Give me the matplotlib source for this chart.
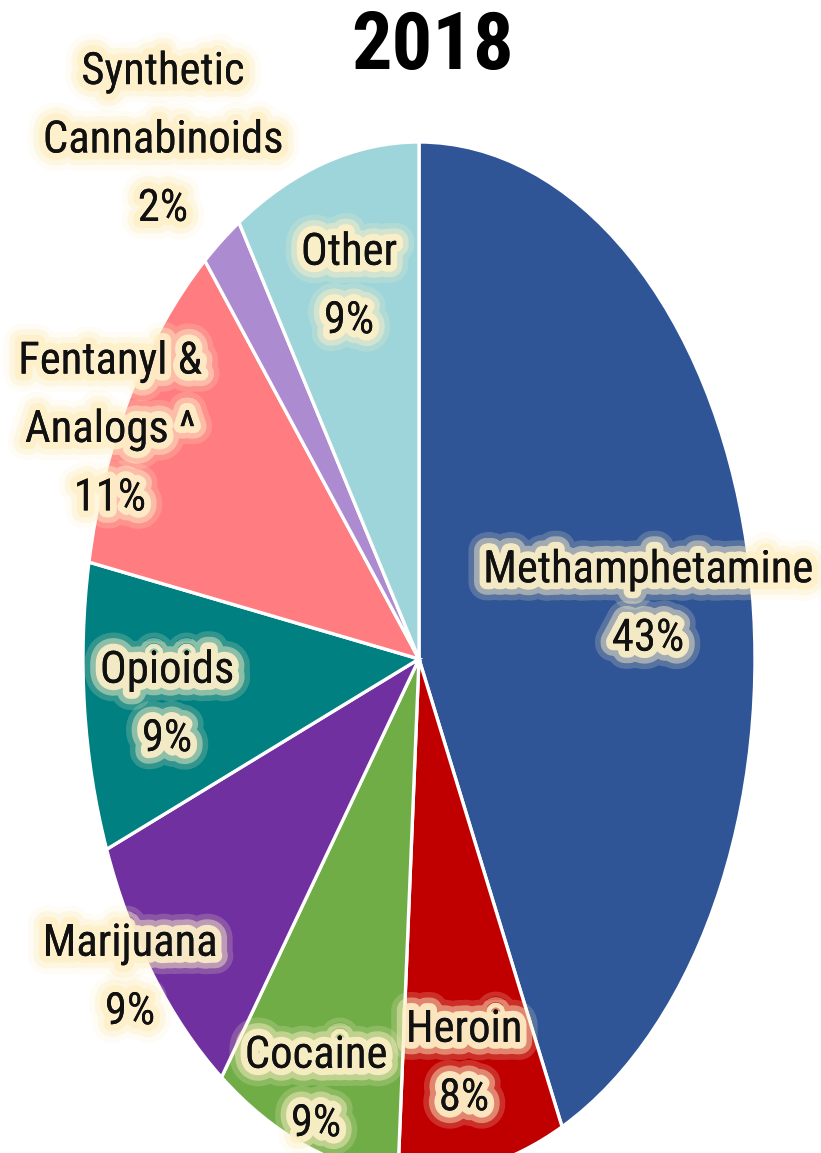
import matplotlib.pyplot as plt
import matplotlib.patheffects as pe
import matplotlib.font_manager as fm
from matplotlib.textpath import TextPath

# drug categories, clockwise from the top
drugs = ["Methamphetamine", "Heroin", "Cocaine", "Marijuana", "Opioids",
         "Fentanyl &\nAnalogs ^", "Synthetic\nCannabinoids", "Other"]
shares = [43, 8, 9, 9, 9, 11, 2, 9]
colors = ["#2F5597", "#C00000", "#70AD47", "#7030A0", "#008080",
          "#FF7C80", "#AD8BD0", "#9DD5DA"]

# label centres in pixels (x from left, y from top)
label_px = [(648, 604), (464, 1064), (316, 1090), (130, 978), (167, 705),
            (110, 430), (163, 140), (349, 287)]

W, H = 821, 1153
cx, cy, rx, ry = 419, 659, 336, 517  # pie centre and radii in pixels


def to_data(x, y):
    return (x - cx) / rx, (cy - y) / ry


# look for a narrow sans face, otherwise use Liberation Sans
narrow_set = ('condensed', 'semi-condensed', 'extra-condensed', 'ultra-condensed')
cands = {}
for f in fm.fontManager.ttflist:
    if f.stretch in narrow_set or 'Narrow' in f.name or 'Condensed' in f.name:
        cands[f.name] = f.stretch
family, stretch = 'Liberation Sans', 'normal'
for pref in ['Liberation Sans Narrow', 'Roboto Condensed', 'Open Sans Condensed',
             'Noto Sans', 'Open Sans', 'Roboto', 'DejaVu Sans']:
    hits = [n for n in cands if n.startswith(pref)]
    if hits:
        family, stretch = hits[0], cands[hits[0]]
        break

plt.rcParams['font.family'] = [family, 'DejaVu Sans']
plt.rcParams['font.stretch'] = stretch


def size_for(text, target_px, weight='normal'):
    fp = fm.FontProperties(family=[family, 'DejaVu Sans'], stretch=stretch,
                           weight=weight)
    w = TextPath((0, 0), text, size=100, prop=fp).get_extents().width
    return target_px * 72 / 100 * 100 / w


label_size = size_for("Methamphetamine", 325)
title_size = size_for("2018", 156, 'bold')

fig = plt.figure(figsize=(W / 100, H / 100), dpi=100)
ax = fig.add_axes([0, 0, 1, 1])

ax.pie(shares, colors=colors, startangle=90, counterclock=False,
       wedgeprops=dict(edgecolor='white', linewidth=2.4))
ax.set_aspect('auto')
ax.set_xlim(to_data(0, 0)[0], to_data(W, 0)[0])
ax.set_ylim(to_data(0, H)[1], to_data(0, 0)[1])
ax.axis('off')

glow_col = '#FDF0C8'
glow = [pe.withStroke(linewidth=26, foreground=glow_col, alpha=0.2),
        pe.withStroke(linewidth=18, foreground=glow_col, alpha=0.45),
        pe.withStroke(linewidth=10, foreground=glow_col, alpha=0.9),
        pe.Normal()]

for name, val, (x, y) in zip(drugs, shares, label_px):
    tx, ty = to_data(x, y)
    ax.text(tx, ty, f"{name}\n{val}%", ha='center', va='center',
            fontsize=label_size, color='#111111', linespacing=1.8,
            path_effects=glow)

tx, ty = to_data(433, 48)
ax.text(tx, ty, "2018", ha='center', va='center', fontsize=title_size,
        fontweight='bold', color='black')

fig.savefig('out.png', dpi=100)
